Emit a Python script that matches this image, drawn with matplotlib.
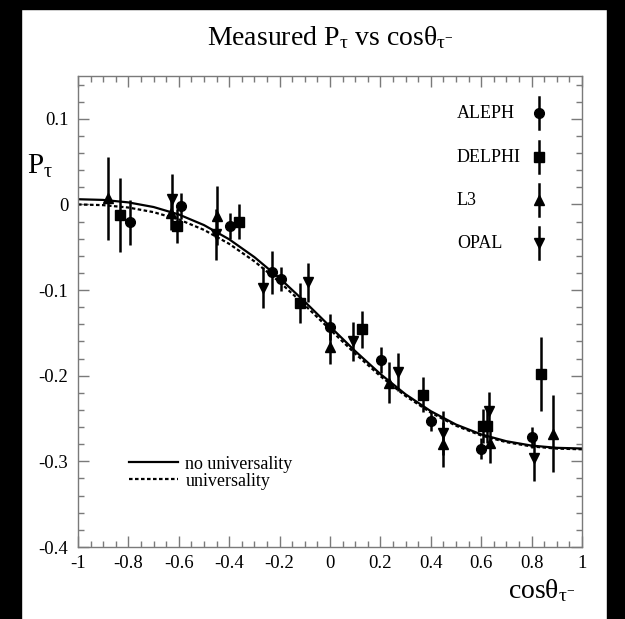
import matplotlib
matplotlib.use("Agg")
import matplotlib.pyplot as plt
from matplotlib.patches import Rectangle
from matplotlib.ticker import MultipleLocator, FixedLocator, FixedFormatter

plt.rcParams['font.family'] = ['Liberation Serif', 'DejaVu Serif']
plt.rcParams['mathtext.fontset'] = 'custom'
plt.rcParams['mathtext.rm'] = 'Liberation Serif'
plt.rcParams['mathtext.it'] = 'Liberation Serif:italic'
plt.rcParams['mathtext.bf'] = 'Liberation Serif:bold'

# ---------------- data ----------------
aleph_x = [-0.795, -0.593, -0.397, -0.231, -0.196, 0.0, 0.202, 0.401, 0.599, 0.80]
aleph_y = [-0.021, -0.002, -0.025, -0.079, -0.087, -0.143, -0.182, -0.253, -0.285, -0.272]
aleph_e = [0.026, 0.015, 0.015, 0.025, 0.014, 0.015, 0.015, 0.012, 0.012, 0.012]

delphi_x = [-0.832, -0.606, -0.361, -0.119, 0.126, 0.368, 0.608, 0.624, 0.836]
delphi_y = [-0.012, -0.025, -0.020, -0.115, -0.146, -0.222, -0.259, -0.259, -0.198]
delphi_e = [0.043, 0.020, 0.020, 0.023, 0.022, 0.020, 0.020, 0.020, 0.043]

l3_x = [-0.88, -0.631, -0.448, 0.0, 0.235, 0.45, 0.635, 0.886]
l3_y = [0.007, -0.010, -0.013, -0.167, -0.208, -0.280, -0.279, -0.268]
l3_e = [0.048, 0.020, 0.034, 0.019, 0.024, 0.026, 0.023, 0.045]

opal_x = [-0.628, -0.452, -0.267, -0.086, 0.093, 0.271, 0.45, 0.631, 0.81]
opal_y = [0.006, -0.035, -0.097, -0.091, -0.160, -0.196, -0.267, -0.241, -0.296]
opal_e = [0.029, 0.030, 0.024, 0.023, 0.023, 0.022, 0.026, 0.022, 0.027]

curve_x = [-1.0, -0.9, -0.8, -0.7, -0.6, -0.5, -0.4, -0.3, -0.2, -0.1, 0.0,
           0.1, 0.2, 0.3, 0.4, 0.5, 0.6, 0.7, 0.8, 0.9, 1.0]
nouniv_y = [0.0061, 0.0053, 0.0024, -0.0030, -0.0117, -0.0241, -0.0407, -0.0615,
            -0.0861, -0.1136, -0.1425, -0.1712, -0.1980, -0.2217, -0.2414, -0.2570,
            -0.2685, -0.2765, -0.2816, -0.2842, -0.2850]
univ_y = [0.0000, -0.0008, -0.0036, -0.0090, -0.0175, -0.0297, -0.0460, -0.0664,
          -0.0906, -0.1176, -0.1460, -0.1742, -0.2005, -0.2237, -0.2431, -0.2584,
          -0.2698, -0.2776, -0.2826, -0.2851, -0.2859]

experiments = ['ALEPH', 'DELPHI', 'L3', 'OPAL']
curve_labels = ['no universality', 'universality']

xtick_vals = [-1, -0.8, -0.6, -0.4, -0.2, 0, 0.2, 0.4, 0.6, 0.8, 1]
xtick_labels = ['-1', '-0.8', '-0.6', '-0.4', '-0.2', '0', '0.2', '0.4', '0.6', '0.8', '1']
ytick_vals = [-0.4, -0.3, -0.2, -0.1, 0, 0.1]
ytick_labels = ['-0.4', '-0.3', '-0.2', '-0.1', '0', '0.1']

# ---------------- figure ----------------
W, H = 625, 619
fig = plt.figure(figsize=(W / 100, H / 100), dpi=100)
fig.patch.set_facecolor('white')
ax = fig.add_axes([78 / W, 1 - 547 / H, 504 / W, 471 / H])

ax.set_xlim(-1, 1)
ax.set_ylim(-0.4, 0.15)

eb_kw = dict(color='black', ecolor='black', elinewidth=1.8, capsize=0, linestyle='none')
markers = {'ALEPH': ('o', 7.0), 'DELPHI': ('s', 6.5), 'L3': ('^', 7.0), 'OPAL': ('v', 7.0)}
series = {'ALEPH': (aleph_x, aleph_y, aleph_e), 'DELPHI': (delphi_x, delphi_y, delphi_e),
          'L3': (l3_x, l3_y, l3_e), 'OPAL': (opal_x, opal_y, opal_e)}

l1, = ax.plot(curve_x, nouniv_y, color='black', lw=1.6, zorder=2)
l2, = ax.plot(curve_x, univ_y, color='black', lw=1.6, linestyle=(0, (1.6, 1.1)), zorder=2)

for name in experiments:
    xs, ys, es = series[name]
    m, ms = markers[name]
    ax.errorbar(xs, ys, yerr=es, marker=m, markersize=ms, zorder=3, **eb_kw)

# experiment key (top right)
key_text_x = 0.752
key_mark_x = 0.915
key_y = [0.9214, 0.828, 0.7367, 0.6454]
for name, yy in zip(experiments, key_y):
    m, ms = markers[name]
    ax.text(key_text_x, yy, name, transform=ax.transAxes, fontsize=13,
            ha='left', va='center')
    ax.plot([key_mark_x, key_mark_x], [yy - 0.034, yy + 0.034], color='black',
            lw=1.8, transform=ax.transAxes, clip_on=False)
    ax.plot([key_mark_x], [yy], marker=m, markersize=ms, color='black',
            transform=ax.transAxes, clip_on=False, linestyle='none')

leg = ax.legend([l1, l2], curve_labels, loc='center left', bbox_to_anchor=(0.102, 0.158),
                frameon=False, fontsize=13, handlelength=2.7, handletextpad=0.4,
                labelspacing=0.0, borderpad=0, borderaxespad=0)

# ticks
ax.xaxis.set_major_locator(FixedLocator(xtick_vals))
ax.xaxis.set_major_formatter(FixedFormatter(xtick_labels))
ax.xaxis.set_minor_locator(MultipleLocator(0.05))
ax.yaxis.set_major_locator(FixedLocator(ytick_vals))
ax.yaxis.set_major_formatter(FixedFormatter(ytick_labels))
ax.yaxis.set_minor_locator(MultipleLocator(0.02))
ax.tick_params(which='both', direction='in', top=True, right=True,
               color='#7a7a7a', labelsize=13.5, width=1.0)
ax.tick_params(which='major', length=8)
ax.tick_params(which='minor', length=4)
ax.tick_params(axis='x', pad=6)
ax.tick_params(axis='y', pad=7)
for s in ax.spines.values():
    s.set_color('#7a7a7a')
    s.set_linewidth(1.0)

fig.text(330 / W, 1 - 38 / H, 'Measured P$_{\\mathrm{τ}}$ vs cosθ$_{\\mathrm{τ}^{-}}$',
         ha='center', va='center', fontsize=20)
fig.text(542 / W, 1 - 591 / H, 'cosθ$_{\\mathrm{τ}^{-}}$', ha='center', va='center', fontsize=20)
fig.text(27 / W, 1 - 166 / H, 'P$_{\\mathrm{τ}}$', ha='left', va='center', fontsize=21)

# black border of the scanned image
fig.add_artist(Rectangle((0, 0), 21 / W, 1, transform=fig.transFigure, color='black', zorder=10))
fig.add_artist(Rectangle((0, 1 - 9 / H), 1, 9 / H, transform=fig.transFigure, color='black', zorder=10))
fig.add_artist(Rectangle((607 / W, 0), 18 / W, 1, transform=fig.transFigure, color='black', zorder=10))

fig.savefig('out.png', dpi=100, facecolor='white')
